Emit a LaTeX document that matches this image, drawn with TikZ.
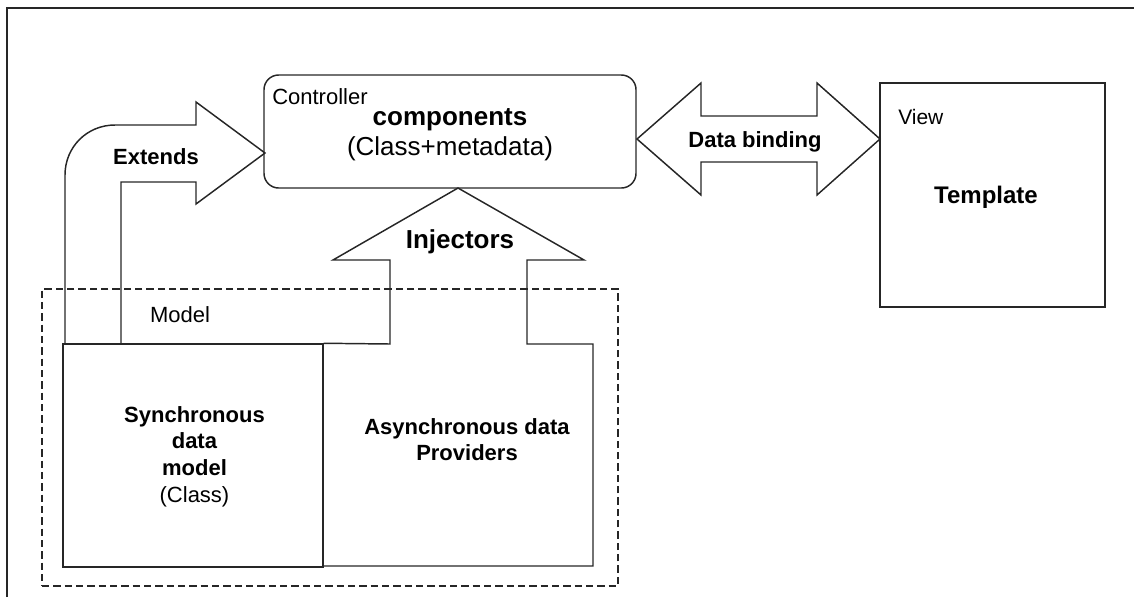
\documentclass[tikz,border=0pt]{standalone}
\usepackage{fontspec}
\setmainfont{Liberation Sans}
\begin{document}
\begin{tikzpicture}[x=0.75pt,y=-0.75pt]
\useasboundingbox (0,0) rectangle (1134,597);
\tikzset{
  shp/.style={draw=black!85, line width=1.1pt, line join=miter},
  boxnode/.style={draw=black!85, line width=1.1pt, inner sep=0pt, fill=none},
  reg/.style={inner sep=0pt, align=center, font=\fontsize{16.5}{19.9}\selectfont},
  bld/.style={inner sep=0pt, align=center, font=\fontsize{16.5}{19.9}\selectfont\bfseries},
  bigreg/.style={inner sep=0pt, font=\fontsize{19.5}{22}\selectfont},
  bigbld/.style={inner sep=0pt, font=\fontsize{19.5}{22}\selectfont\bfseries},
  dashbox/.style={draw=black!85, line width=1.1pt, dash pattern=on 5.5pt off 3pt, inner sep=0pt}
}
% outer frame
\coordinate (fbl) at (7,597);
\coordinate (ftl) at (7,8);
\coordinate (ftr) at (1134,8);
\draw[line width=1.5pt, black!85] (fbl) -- (ftl) -- (ftr);

% boxes
\node[dashbox, minimum width=432pt, minimum height=222.75pt] (model) at (330,437.5) {};
\node[boxnode, rounded corners=11pt, minimum width=279pt, minimum height=84.75pt] (ctrl) at (450,131.5) {};
\node[boxnode, minimum width=168.75pt, minimum height=168pt] (view) at (992.5,195) {};
\node[boxnode, minimum width=195pt, minimum height=167.25pt] (sync) at (193,455.5) {};

% Extends arrow
\coordinate (extip) at (265,153);
\draw[shp] (65,344) -- (65,175) .. controls (65,147) and (87,125) .. (115,125)
  -- (196,125) -- (196,102) -- (extip) -- (196,204) -- (196,182) -- (121,182) -- (121,344);

% Injectors arrow joined with the asynchronous providers box
\coordinate (injtip) at (458,188);
\draw[shp] (sync.north east) -- (390,344) -- (390,260) -- (333,260) -- (injtip) -- (584,260)
  -- (527,260) -- (527,344) -- (593,344) -- (593,566) -- (323,566);

% Data binding double arrow
\coordinate (dbl) at (637,139);
\coordinate (dbr) at (880,139);
\draw[shp] (dbl) -- (701,83) -- (701,116) -- (817,116) -- (817,83) -- (dbr) -- (817,195)
  -- (817,162) -- (701,162) -- (701,195) -- cycle;

% texts
\node[reg, anchor=west] (tctrl) at (272,97) {Controller};
\node[bigbld] (tcomp) at (450,120) {components};
\node[bigreg] (tcls) at (450,149) {(Class+metadata)};
\node[bld] (text) at (156,157) {Extends};
\node[bigbld] (tinj) at (460,242) {Injectors};
\node[bld] (tdb) at (755,142) {Data binding};
\node[inner sep=0pt, anchor=west, font=\fontsize{15.75}{18}\selectfont] (tview) at (898,117) {View};
\node[inner sep=0pt, font=\fontsize{18}{20}\selectfont\bfseries] (ttpl) at (986,197) {Template};
\node[reg] (tmodel) at (180,315) {Model};
\node[reg] (tsync) at (194.5,456.5) {\textbf{Synchronous}\\\textbf{data}\\\textbf{model}\\(Class)};
\node[bld, font=\fontsize{16.5}{19}\selectfont\bfseries] (tasync) at (467,439.5) {Asynchronous data\\Providers};
\end{tikzpicture}
\end{document}
